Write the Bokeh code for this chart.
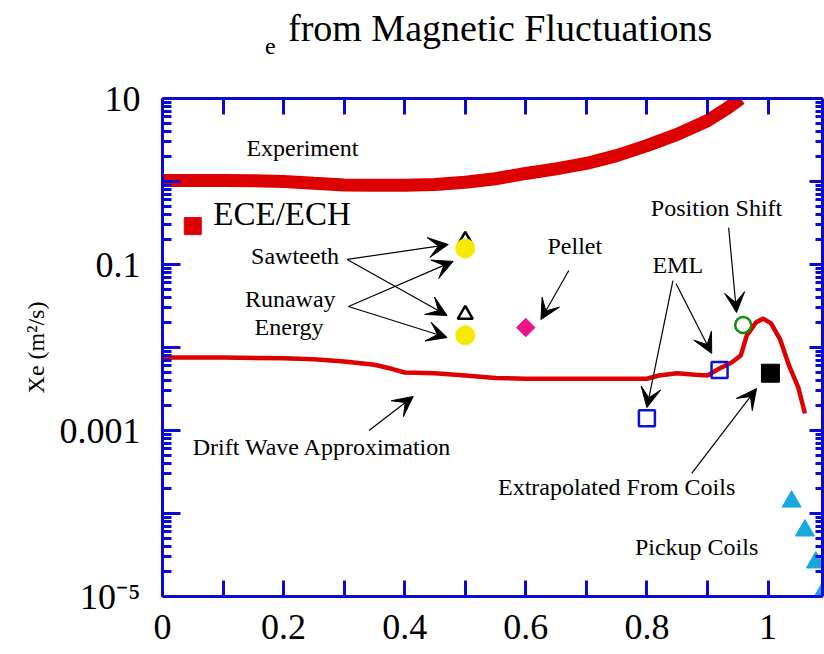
import math

from bokeh.plotting import figure
from bokeh.layouts import column
from bokeh.models import (Range1d, LinearAxis, LogAxis, FixedTicker, CustomJSTickFormatter,
                          Arrow, VeeHead, ColumnDataSource, Div)
from bokeh.core.properties import value
from bokeh.embed import file_html
from bokeh.resources import INLINE

FONT = "Liberation Serif"
AXIS_BLUE = "#0a0ad2"
RED = "#dd0000"

# --- measured electron heat diffusivity profile (Experiment) ---
exp_x = [0.0, 0.05, 0.10, 0.15, 0.20, 0.25, 0.30, 0.35, 0.40, 0.45, 0.50, 0.55,
         0.60, 0.65, 0.70, 0.75, 0.80, 0.85, 0.90, 0.93, 0.955]
exp_y = [1.03, 1.03, 1.03, 1.02, 1.00, 0.95, 0.91, 0.90, 0.90, 0.92, 0.98, 1.08,
         1.25, 1.42, 1.65, 2.05, 2.70, 3.70, 5.40, 7.40, 10.0]

# --- drift wave approximation ---
drift_x = [0.0, 0.10, 0.20, 0.25, 0.30, 0.35, 0.38, 0.40, 0.45, 0.50, 0.55, 0.60,
           0.70, 0.80, 0.82, 0.85, 0.88, 0.90, 0.92, 0.94, 0.955, 0.965, 0.98,
           0.992, 1.005, 1.02, 1.035, 1.05, 1.061]
drift_y = [0.0076, 0.0076, 0.0074, 0.0072, 0.0068, 0.0062, 0.0055, 0.0050, 0.0049,
           0.0046, 0.0043, 0.0042, 0.0042, 0.0042, 0.0046, 0.0049, 0.0047, 0.0046,
           0.0056, 0.0066, 0.0080, 0.0140, 0.0200, 0.0223, 0.0195, 0.0125, 0.0060,
           0.0033, 0.0016]

# --- individual estimates ---
ece_x, ece_y = [0.05], [0.29]
saw_x, saw_y = [0.5, 0.5], [0.194, 0.025]          # open triangles
runaway_x, runaway_y = [0.5, 0.5], [0.156, 0.014]  # yellow circles
pellet_x, pellet_y = [0.6], [0.0174]
eml_x, eml_y = [0.80, 0.92], [0.0014, 0.00535]
shift_x, shift_y = [0.959], [0.0187]
extrap_x, extrap_y = [1.004], [0.0049]
pickup_x = [1.039, 1.061, 1.079, 1.093]
pickup_y = [1.39e-4, 6.24e-5, 2.57e-5, 1.2e-5]

# --- annotation texts ---
ann_text = ["Experiment", "Sawteeth", "Runaway", "Energy", "Pellet", "EML",
            "Position Shift", "Drift Wave Approximation", "Extrapolated From Coils",
            "Pickup Coils"]
ann_x = [0.231, 0.219, 0.211, 0.209, 0.681, 0.851, 0.915, 0.264, 0.750, 0.882]
ann_y = [2.5, 0.128, 0.0389, 0.0179, 0.165, 0.10, 0.486, 6.4e-4, 2.06e-4, 4.0e-5]

# --- arrows pointing from annotations to points ---
arr_x0 = [0.305, 0.305, 0.307, 0.307, 0.341, 0.671, 0.843, 0.848, 0.935, 0.874]
arr_y0 = [0.115, 0.115, 0.0312, 0.0312, 1.0e-3, 0.0847, 0.0641, 0.059, 0.278, 3.04e-4]
arr_x1 = [0.472, 0.470, 0.480, 0.470, 0.414, 0.625, 0.800, 0.907, 0.948, 0.981]
arr_y1 = [0.174, 0.0243, 0.109, 0.0132, 2.57e-3, 0.0217, 0.00189, 0.00848, 0.0264, 0.0032]

# --- axis ticks ---
x_ticks = [0.0, 0.2, 0.4, 0.6, 0.8, 1.0]
x_tick_labels = ["0", "0.2", "0.4", "0.6", "0.8", "1"]
x_minor = [0.1, 0.3, 0.5, 0.7, 0.9]
y_exps = [-5, -4, -3, -2, -1, 0, 1]
y_tick_labels = ["10\u207b\u2075", "", "0.001", "", "0.1", "", "10"]

y_ticks = [10.0 ** e for e in y_exps]
y_minor = [m * 10.0 ** e for e in y_exps[:-1] for m in range(2, 10)]

TITLE_H = 60

p = figure(width=824, height=654 - TITLE_H,
           x_range=Range1d(0, 1.09), y_range=Range1d(1e-5, 10),
           y_axis_type="log", output_backend="svg", toolbar_location=None,
           min_border_left=162, min_border_right=2, min_border_top=98 - TITLE_H,
           min_border_bottom=58)
p.outline_line_color = None
p.xgrid.visible = False
p.ygrid.visible = False
p.background_fill_color = "white"
p.border_fill_color = "white"

x_ticker = FixedTicker(ticks=x_ticks, minor_ticks=x_minor)
y_ticker = FixedTicker(ticks=y_ticks, minor_ticks=y_minor)

x_fmt = CustomJSTickFormatter(args=dict(vals=x_ticks, labels=x_tick_labels), code="""
    for (let i = 0; i < vals.length; i++) {
        if (Math.abs(vals[i] - tick) < 1e-6) return labels[i];
    }
    return "";
""")
y_fmt = CustomJSTickFormatter(args=dict(exps=y_exps, labels=y_tick_labels), code="""
    const e = Math.round(Math.log10(tick));
    const i = exps.indexOf(e);
    return i >= 0 ? labels[i] : "";
""")
blank_fmt = CustomJSTickFormatter(code="return '';")


def style_axis(ax, major_in, minor_in):
    ax.axis_line_color = AXIS_BLUE
    ax.axis_line_width = 3
    ax.major_tick_line_color = AXIS_BLUE
    ax.major_tick_line_width = 3
    ax.minor_tick_line_color = AXIS_BLUE
    ax.minor_tick_line_width = 3
    ax.major_tick_in = major_in
    ax.major_tick_out = 0
    ax.minor_tick_in = minor_in
    ax.minor_tick_out = 0
    ax.major_label_text_font = FONT
    ax.major_label_text_color = "black"


xb = p.xaxis[0]
xb.ticker = x_ticker
xb.formatter = x_fmt
style_axis(xb, 16, 16)
xb.major_label_text_font_size = "36px"
xb.major_label_standoff = 18

yl = p.yaxis[0]
yl.ticker = y_ticker
yl.formatter = y_fmt
style_axis(yl, 18, 9)
yl.major_label_text_font_size = "36px"
yl.major_label_standoff = 22
yl.axis_label = "Xe (m\u00b2/s)"
yl.axis_label_text_font = FONT
yl.axis_label_text_font_style = "normal"
yl.axis_label_text_font_size = "24px"
yl.axis_label_text_color = "black"
yl.axis_label_standoff = 8

xt = LinearAxis(ticker=x_ticker, formatter=blank_fmt,
                major_label_text_font_size="0px", major_label_standoff=0)
style_axis(xt, 16, 16)
p.add_layout(xt, "above")

yr = LogAxis(ticker=y_ticker, formatter=blank_fmt,
             major_label_text_font_size="0px", major_label_standoff=0)
style_axis(yr, 13, 7)
p.add_layout(yr, "right")

# curves
p.line(exp_x, exp_y, line_color=RED, line_width=13)
p.line(drift_x, drift_y, line_color=RED, line_width=4.5)

# arrows
arr_src = ColumnDataSource(dict(x0=arr_x0, y0=arr_y0, x1=arr_x1, y1=arr_y1))
p.add_layout(Arrow(source=arr_src, x_start="x0", y_start="y0", x_end="x1", y_end="y1",
                   line_color="black", line_width=1.2,
                   end=VeeHead(size=20, fill_color="black", line_color="black",
                               line_width=1)))

# markers
p.scatter(ece_x, ece_y, marker="square", size=17, fill_color=RED, line_color=RED)
p.scatter(saw_x, saw_y, marker="triangle", size=15, fill_color="white",
          line_color="black", line_width=2.5)
p.scatter(runaway_x, runaway_y, marker="circle", size=19, fill_color="#f7ea00",
          line_color="#f7ea00")
p.scatter(pellet_x, pellet_y, marker="square", size=13, angle=math.pi / 4,
          fill_color="#ee1388", line_color="#ee1388")
p.scatter(eml_x, eml_y, marker="square", size=16, fill_color=None,
          line_color="#1010d0", line_width=2.5)
p.scatter(shift_x, shift_y, marker="circle", size=16, fill_color=None,
          line_color="#138a13", line_width=2.5)
p.scatter(extrap_x, extrap_y, marker="square", size=18, fill_color="black",
          line_color="black")
p.scatter(pickup_x, pickup_y, marker="triangle", size=19, fill_color="#18a8e0",
          line_color="#18a8e0")

# annotation texts
p.text(ann_x, ann_y, text=ann_text, text_font=value(FONT), text_font_size="24px",
       text_align="center", text_baseline="middle", text_color="black")
p.text([0.084], [0.411], text=["ECE/ECH"], text_font=value(FONT),
       text_font_size="33px", text_align="left", text_baseline="middle",
       text_color="black")

# heading above the plot: subscripted e followed by the title text
title_html = f"""
<div style="position:relative;width:824px;height:{TITLE_H}px;
            font-family:'{FONT}';color:black;background:white;">
  <span style="position:absolute;left:265px;top:34px;font-size:24px;line-height:24px;
               white-space:nowrap;">e</span>
  <span style="position:absolute;left:288px;top:9px;font-size:38px;line-height:38px;
               white-space:nowrap;">from Magnetic Fluctuations</span>
</div>
"""
heading = Div(text=title_html, width=824, height=TITLE_H, margin=(0, 0, 0, 0))

layout = column(heading, p, spacing=0)

open("out.html", "w").write(file_html(layout, INLINE))
